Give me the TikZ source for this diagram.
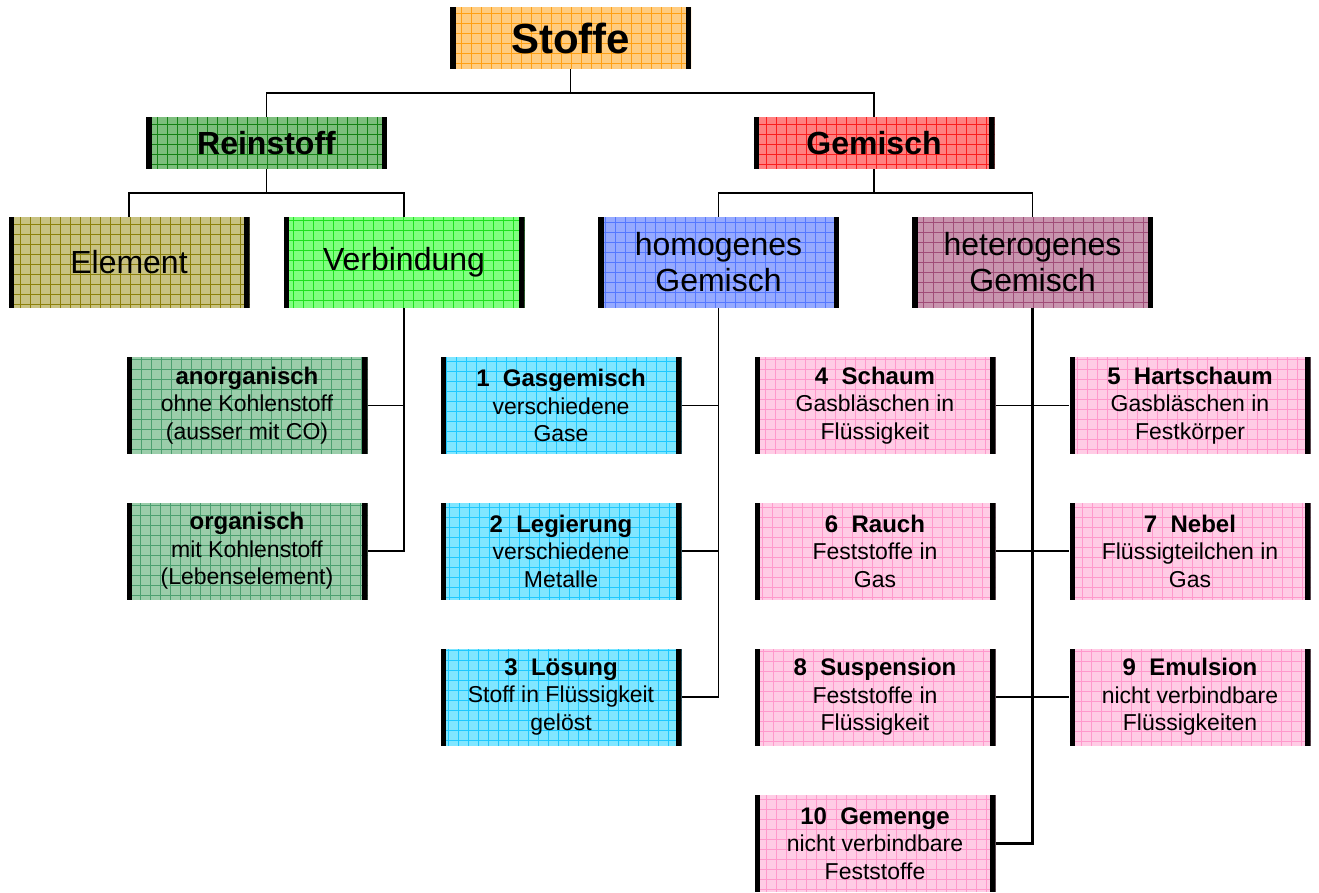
\documentclass[tikz,border=0pt]{standalone}
\usepackage{fontspec}
\setmainfont{Liberation Sans}
\usetikzlibrary{positioning}
\definecolor{fStoffe}{RGB}{255,204,128}
\definecolor{gStoffe}{RGB}{255,160,20}
\definecolor{fRein}{RGB}{125,190,125}
\definecolor{gRein}{RGB}{20,130,20}
\definecolor{fGem}{RGB}{255,128,128}
\definecolor{gGem}{RGB}{250,30,30}
\definecolor{fElem}{RGB}{200,194,130}
\definecolor{gElem}{RGB}{140,128,10}
\definecolor{fVerb}{RGB}{128,255,128}
\definecolor{gVerb}{RGB}{30,225,30}
\definecolor{fHomo}{RGB}{150,170,255}
\definecolor{gHomo}{RGB}{85,120,255}
\definecolor{fHete}{RGB}{200,148,174}
\definecolor{gHete}{RGB}{160,76,120}
\definecolor{fOrg}{RGB}{155,205,170}
\definecolor{gOrg}{RGB}{76,160,112}
\definecolor{fBlau}{RGB}{128,230,255}
\definecolor{gBlau}{RGB}{30,200,255}
\definecolor{fRosa}{RGB}{255,204,229}
\definecolor{gRosa}{RGB}{255,153,204}
\newcommand{\ttl}[1]{{\fontsize{24}{27.5}\selectfont\bfseries #1}}

\begin{document}
\begin{tikzpicture}[x=1pt,y=-1pt]
		\tikzset{
			stoffbox/.style 2 args={fill=#1, text=black, align=center, inner sep=0pt,
				minimum width=241pt, minimum height=97pt,
				font=\fontsize{23}{27.5}\selectfont,
				path picture={
					\draw[#2, line width=0.6pt] (path picture bounding box.south west) grid[step=10pt] (path picture bounding box.north east);
					\fill[black] (path picture bounding box.south west) rectangle ([xshift=5.5pt]path picture bounding box.north west);
					\fill[black] (path picture bounding box.south east) rectangle ([xshift=-5.5pt]path picture bounding box.north east);
				}},
		}
		\tikzset{
			link/.style={color=black,line width=1.3pt},
		}
		\useasboundingbox (0,0) rectangle (1319,893);
		
		\node[stoffbox={fStoffe}{gStoffe}, minimum height=62pt, font=\fontsize{42}{48}\selectfont\bfseries] (stoffe) at (570.5,38) {Stoffe};
		
		\node[stoffbox={fRein}{gRein}, minimum height=52pt, font=\fontsize{32}{36}\selectfont\bfseries] (reinstoff) at (266.5,143) {Reinstoff};
		\node[stoffbox={fGem}{gGem}, minimum height=52pt, font=\fontsize{32}{36}\selectfont\bfseries] (gemisch) at (874,143) {Gemisch};
		
		\node[stoffbox={fElem}{gElem}, minimum height=91pt, font=\fontsize{32}{36}\selectfont] (element) at (129,262.5) {Element};
		\node[stoffbox={fVerb}{gVerb}, minimum height=91pt, font=\fontsize{32}{36}\selectfont] (verbindung) at (404,262.5) {Verbindung};
		\node[stoffbox={fHomo}{gHomo}, minimum height=91pt, font=\fontsize{32}{36}\selectfont] (homogen) at (718.5,262.5) {homogenes\\Gemisch};
		\node[stoffbox={fHete}{gHete}, minimum height=91pt, font=\fontsize{32}{36}\selectfont] (heterogen) at (1032.5,262.5) {heterogenes\\Gemisch};
		
		\node[stoffbox={fOrg}{gOrg}] (anorganisch) at (247,405.5) {\ttl{anorganisch}\\ohne Kohlenstoff\\(ausser mit CO)};
		\node[stoffbox={fOrg}{gOrg}] (organisch) at (247,551) {\ttl{organisch}\\mit Kohlenstoff\\(Lebenselement)};
		
		\node[stoffbox={fBlau}{gBlau}] (gasgemisch) at (561,405.5) {\ttl{1~~Gasgemisch}\\verschiedene\\Gase};
		\node[stoffbox={fBlau}{gBlau}] (legierung) at (561,551) {\ttl{2~~Legierung}\\verschiedene\\Metalle};
		\node[stoffbox={fBlau}{gBlau}] (loesung) at (561,697) {\ttl{3~~Lösung}\\Stoff in Flüssigkeit\\gelöst};
		
		\node[stoffbox={fRosa}{gRosa}] (schaum) at (875,405.5) {\ttl{4~~Schaum}\\Gasbläschen in\\Flüssigkeit};
		\node[stoffbox={fRosa}{gRosa}] (hartschaum) at (1190,405.5) {\ttl{5~~Hartschaum}\\Gasbläschen in\\Festkörper};
		\node[stoffbox={fRosa}{gRosa}] (rauch) at (875,551) {\ttl{6~~Rauch}\\Feststoffe in\\Gas};
		\node[stoffbox={fRosa}{gRosa}] (nebel) at (1190,551) {\ttl{7~~Nebel}\\Flüssigteilchen in\\Gas};
		\node[stoffbox={fRosa}{gRosa}] (suspension) at (875,697) {\ttl{8~~Suspension}\\Feststoffe in\\Flüssigkeit};
		\node[stoffbox={fRosa}{gRosa}] (emulsion) at (1190,697) {\ttl{9~~Emulsion}\\nicht verbindbare\\Flüssigkeiten};
		\node[stoffbox={fRosa}{gRosa}] (gemenge) at (875,843.5) {\ttl{10~~Gemenge}\\nicht verbindbare\\Feststoffe};
		
		\coordinate (topjoin) at (570.5,93);
		\coordinate (reinjoin) at (266.5,193);
		\coordinate (gemjoin) at (874,193);
		
		\draw[link] (stoffe.south) to (topjoin);
		\draw[link] (reinstoff.north) |- (topjoin) -| (gemisch.north);
		\draw[link] (reinstoff.south) to (reinjoin);
		\draw[link] (element.north) |- (reinjoin) -| (verbindung.north);
		\draw[link] (gemisch.south) to (gemjoin);
		\draw[link] (homogen.north) |- (gemjoin) -| (heterogen.north);
		
		\draw[link] (verbindung.south) |- (organisch.east);
		\draw[link] (anorganisch.east) to (anorganisch.east -| verbindung.south);
		
		\draw[link] (homogen.south) |- (loesung.east);
		\draw[link] (gasgemisch.east) to (gasgemisch.east -| homogen.south);
		\draw[link] (legierung.east) to (legierung.east -| homogen.south);
		
		\draw[link,line width=2.2pt] (heterogen.south) |- (gemenge.east);
		\draw[link] (schaum.east) to (hartschaum.west);
		\draw[link] (rauch.east) to (nebel.west);
		\draw[link] (suspension.east) to (emulsion.west);
	\end{tikzpicture}
\end{document}
